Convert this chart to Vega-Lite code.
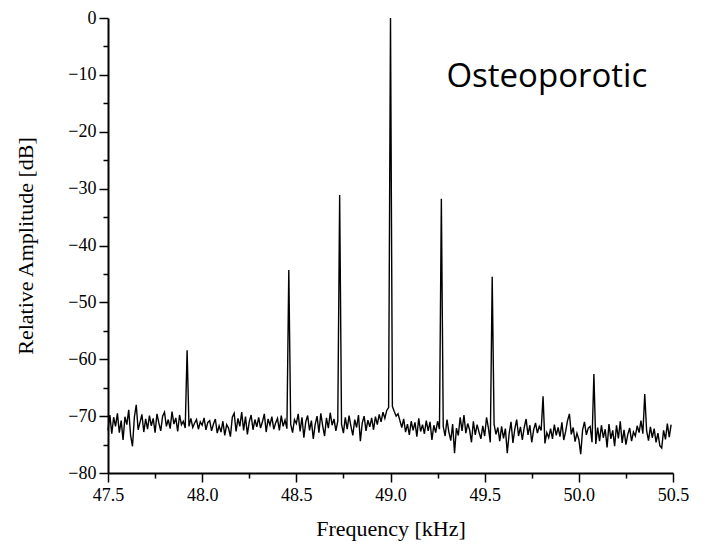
{
  "$schema": "https://vega.github.io/schema/vega-lite/v6.json",
  "autosize": "none",
  "width": 565,
  "height": 455,
  "padding": {"left": 108, "top": 18, "right": 33, "bottom": 74},
  "background": "white",
  "config": {"view": {"stroke": null}},
  "datasets": {
    "spectrum": [
      {"f": 47.50, "a": -72.5}, {"f": 47.51, "a": -69.8}, {"f": 47.52, "a": -73.1}, {"f": 47.53, "a": -70.2}, {"f": 47.54, "a": -71.8}, {"f": 47.55, "a": -69.5}, {"f": 47.56, "a": -72.9}, {"f": 47.57, "a": -70.8}, {"f": 47.58, "a": -74.2}, {"f": 47.59, "a": -70.1},
      {"f": 47.60, "a": -71.5}, {"f": 47.61, "a": -68.9}, {"f": 47.62, "a": -73.4}, {"f": 47.63, "a": -75.3}, {"f": 47.64, "a": -70.2}, {"f": 47.65, "a": -68.0}, {"f": 47.66, "a": -72.4}, {"f": 47.67, "a": -71.1}, {"f": 47.68, "a": -69.7}, {"f": 47.69, "a": -72.8},
      {"f": 47.70, "a": -70.5}, {"f": 47.71, "a": -72.3}, {"f": 47.72, "a": -69.9}, {"f": 47.73, "a": -71.7}, {"f": 47.74, "a": -70.4}, {"f": 47.75, "a": -72.9}, {"f": 47.76, "a": -69.6}, {"f": 47.77, "a": -71.2}, {"f": 47.78, "a": -72.6}, {"f": 47.79, "a": -70.0},
      {"f": 47.80, "a": -69.3}, {"f": 47.81, "a": -71.8}, {"f": 47.82, "a": -70.6}, {"f": 47.83, "a": -72.2}, {"f": 47.84, "a": -69.2}, {"f": 47.85, "a": -71.4}, {"f": 47.86, "a": -70.3}, {"f": 47.87, "a": -72.7}, {"f": 47.88, "a": -69.8}, {"f": 47.89, "a": -71.5},
      {"f": 47.90, "a": -70.9}, {"f": 47.91, "a": -72.1}, {"f": 47.92, "a": -58.4}, {"f": 47.93, "a": -71.8}, {"f": 47.94, "a": -70.4}, {"f": 47.95, "a": -72.0}, {"f": 47.96, "a": -71.2}, {"f": 47.97, "a": -70.6}, {"f": 47.98, "a": -72.3}, {"f": 47.99, "a": -71.0},
      {"f": 48.00, "a": -71.6}, {"f": 48.01, "a": -70.3}, {"f": 48.02, "a": -72.4}, {"f": 48.03, "a": -71.1}, {"f": 48.04, "a": -70.8}, {"f": 48.05, "a": -72.6}, {"f": 48.06, "a": -71.4}, {"f": 48.07, "a": -70.5}, {"f": 48.08, "a": -73.0}, {"f": 48.09, "a": -71.7},
      {"f": 48.10, "a": -72.8}, {"f": 48.11, "a": -70.9}, {"f": 48.12, "a": -73.4}, {"f": 48.13, "a": -71.5}, {"f": 48.14, "a": -72.1}, {"f": 48.15, "a": -73.6}, {"f": 48.16, "a": -70.2}, {"f": 48.17, "a": -69.5}, {"f": 48.18, "a": -72.7}, {"f": 48.19, "a": -70.4},
      {"f": 48.20, "a": -71.8}, {"f": 48.21, "a": -69.3}, {"f": 48.22, "a": -72.5}, {"f": 48.23, "a": -70.1}, {"f": 48.24, "a": -73.2}, {"f": 48.25, "a": -71.0}, {"f": 48.26, "a": -69.8}, {"f": 48.27, "a": -72.4}, {"f": 48.28, "a": -70.6}, {"f": 48.29, "a": -71.9},
      {"f": 48.30, "a": -70.2}, {"f": 48.31, "a": -72.1}, {"f": 48.32, "a": -71.0}, {"f": 48.33, "a": -69.6}, {"f": 48.34, "a": -72.8}, {"f": 48.35, "a": -70.5}, {"f": 48.36, "a": -71.6}, {"f": 48.37, "a": -70.1}, {"f": 48.38, "a": -72.3}, {"f": 48.39, "a": -71.2},
      {"f": 48.40, "a": -70.4}, {"f": 48.41, "a": -72.5}, {"f": 48.42, "a": -69.9}, {"f": 48.43, "a": -71.8}, {"f": 48.44, "a": -70.7}, {"f": 48.45, "a": -72.2}, {"f": 48.46, "a": -44.3}, {"f": 48.47, "a": -71.4}, {"f": 48.48, "a": -72.9}, {"f": 48.49, "a": -70.6},
      {"f": 48.50, "a": -71.3}, {"f": 48.51, "a": -69.6}, {"f": 48.52, "a": -72.7}, {"f": 48.53, "a": -70.2}, {"f": 48.54, "a": -73.8}, {"f": 48.55, "a": -71.0}, {"f": 48.56, "a": -69.9}, {"f": 48.57, "a": -72.5}, {"f": 48.58, "a": -70.8}, {"f": 48.59, "a": -74.0},
      {"f": 48.60, "a": -71.5}, {"f": 48.61, "a": -70.0}, {"f": 48.62, "a": -72.9}, {"f": 48.63, "a": -69.5}, {"f": 48.64, "a": -71.7}, {"f": 48.65, "a": -73.5}, {"f": 48.66, "a": -70.3}, {"f": 48.67, "a": -72.1}, {"f": 48.68, "a": -69.4}, {"f": 48.69, "a": -71.6},
      {"f": 48.70, "a": -70.5}, {"f": 48.71, "a": -72.6}, {"f": 48.72, "a": -70.9}, {"f": 48.73, "a": -31.1}, {"f": 48.74, "a": -71.4}, {"f": 48.75, "a": -73.0}, {"f": 48.76, "a": -70.2}, {"f": 48.77, "a": -72.3}, {"f": 48.78, "a": -69.9}, {"f": 48.79, "a": -71.8},
      {"f": 48.80, "a": -73.4}, {"f": 48.81, "a": -70.6}, {"f": 48.82, "a": -72.0}, {"f": 48.83, "a": -69.8}, {"f": 48.84, "a": -74.4}, {"f": 48.85, "a": -71.2}, {"f": 48.86, "a": -70.0}, {"f": 48.87, "a": -72.6}, {"f": 48.88, "a": -70.7}, {"f": 48.89, "a": -71.9},
      {"f": 48.90, "a": -70.3}, {"f": 48.91, "a": -72.4}, {"f": 48.92, "a": -70.1}, {"f": 48.93, "a": -71.5}, {"f": 48.94, "a": -69.7}, {"f": 48.95, "a": -71.0}, {"f": 48.96, "a": -69.3}, {"f": 48.97, "a": -70.4}, {"f": 48.98, "a": -69.0}, {"f": 48.99, "a": -68.5},
      {"f": 49.00, "a": 0.0}, {"f": 49.01, "a": -68.3}, {"f": 49.02, "a": -69.2}, {"f": 49.03, "a": -70.0}, {"f": 49.04, "a": -69.6}, {"f": 49.05, "a": -70.8}, {"f": 49.06, "a": -72.0}, {"f": 49.07, "a": -70.5}, {"f": 49.08, "a": -72.8}, {"f": 49.09, "a": -71.4},
      {"f": 49.10, "a": -73.3}, {"f": 49.11, "a": -70.9}, {"f": 49.12, "a": -72.5}, {"f": 49.13, "a": -71.1}, {"f": 49.14, "a": -73.6}, {"f": 49.15, "a": -70.4}, {"f": 49.16, "a": -72.7}, {"f": 49.17, "a": -71.5}, {"f": 49.18, "a": -73.1}, {"f": 49.19, "a": -70.8},
      {"f": 49.20, "a": -72.6}, {"f": 49.21, "a": -71.0}, {"f": 49.22, "a": -74.2}, {"f": 49.23, "a": -71.6}, {"f": 49.24, "a": -72.9}, {"f": 49.25, "a": -70.9}, {"f": 49.26, "a": -72.3}, {"f": 49.27, "a": -31.8}, {"f": 49.28, "a": -71.8}, {"f": 49.29, "a": -73.5},
      {"f": 49.30, "a": -70.6}, {"f": 49.31, "a": -72.8}, {"f": 49.32, "a": -74.3}, {"f": 49.33, "a": -71.4}, {"f": 49.34, "a": -76.5}, {"f": 49.35, "a": -72.1}, {"f": 49.36, "a": -73.4}, {"f": 49.37, "a": -70.2}, {"f": 49.38, "a": -72.6}, {"f": 49.39, "a": -69.8},
      {"f": 49.40, "a": -73.0}, {"f": 49.41, "a": -71.3}, {"f": 49.42, "a": -72.4}, {"f": 49.43, "a": -74.6}, {"f": 49.44, "a": -70.9}, {"f": 49.45, "a": -73.3}, {"f": 49.46, "a": -71.5}, {"f": 49.47, "a": -72.8}, {"f": 49.48, "a": -74.0}, {"f": 49.49, "a": -71.7},
      {"f": 49.50, "a": -73.5}, {"f": 49.51, "a": -70.2}, {"f": 49.52, "a": -72.1}, {"f": 49.53, "a": -74.6}, {"f": 49.54, "a": -45.5}, {"f": 49.55, "a": -71.4}, {"f": 49.56, "a": -73.2}, {"f": 49.57, "a": -72.0}, {"f": 49.58, "a": -74.4}, {"f": 49.59, "a": -71.8},
      {"f": 49.60, "a": -73.9}, {"f": 49.61, "a": -72.2}, {"f": 49.62, "a": -76.5}, {"f": 49.63, "a": -73.1}, {"f": 49.64, "a": -71.0}, {"f": 49.65, "a": -74.7}, {"f": 49.66, "a": -72.3}, {"f": 49.67, "a": -70.6}, {"f": 49.68, "a": -73.5}, {"f": 49.69, "a": -71.9},
      {"f": 49.70, "a": -74.2}, {"f": 49.71, "a": -72.0}, {"f": 49.72, "a": -70.5}, {"f": 49.73, "a": -73.3}, {"f": 49.74, "a": -71.6}, {"f": 49.75, "a": -74.6}, {"f": 49.76, "a": -72.4}, {"f": 49.77, "a": -71.2}, {"f": 49.78, "a": -73.0}, {"f": 49.79, "a": -71.8},
      {"f": 49.80, "a": -72.5}, {"f": 49.81, "a": -66.5}, {"f": 49.82, "a": -74.8}, {"f": 49.83, "a": -72.9}, {"f": 49.84, "a": -73.8}, {"f": 49.85, "a": -72.2}, {"f": 49.86, "a": -74.0}, {"f": 49.87, "a": -71.5}, {"f": 49.88, "a": -73.4}, {"f": 49.89, "a": -72.0},
      {"f": 49.90, "a": -73.6}, {"f": 49.91, "a": -71.1}, {"f": 49.92, "a": -74.2}, {"f": 49.93, "a": -72.7}, {"f": 49.94, "a": -70.8}, {"f": 49.95, "a": -69.6}, {"f": 49.96, "a": -73.2}, {"f": 49.97, "a": -72.0}, {"f": 49.98, "a": -74.5}, {"f": 49.99, "a": -73.0},
      {"f": 50.00, "a": -74.1}, {"f": 50.01, "a": -76.7}, {"f": 50.02, "a": -72.4}, {"f": 50.03, "a": -71.0}, {"f": 50.04, "a": -73.3}, {"f": 50.05, "a": -72.1}, {"f": 50.06, "a": -71.8}, {"f": 50.07, "a": -74.6}, {"f": 50.08, "a": -62.6}, {"f": 50.09, "a": -74.9},
      {"f": 50.10, "a": -72.0}, {"f": 50.11, "a": -74.4}, {"f": 50.12, "a": -71.6}, {"f": 50.13, "a": -73.8}, {"f": 50.14, "a": -72.3}, {"f": 50.15, "a": -75.5}, {"f": 50.16, "a": -71.4}, {"f": 50.17, "a": -74.0}, {"f": 50.18, "a": -72.5}, {"f": 50.19, "a": -75.3},
      {"f": 50.20, "a": -71.6}, {"f": 50.21, "a": -73.9}, {"f": 50.22, "a": -70.9}, {"f": 50.23, "a": -74.7}, {"f": 50.24, "a": -72.4}, {"f": 50.25, "a": -75.0}, {"f": 50.26, "a": -73.2}, {"f": 50.27, "a": -72.1}, {"f": 50.28, "a": -74.4}, {"f": 50.29, "a": -72.8},
      {"f": 50.30, "a": -73.5}, {"f": 50.31, "a": -71.7}, {"f": 50.32, "a": -72.9}, {"f": 50.33, "a": -70.8}, {"f": 50.34, "a": -73.1}, {"f": 50.35, "a": -66.1}, {"f": 50.36, "a": -72.6}, {"f": 50.37, "a": -74.3}, {"f": 50.38, "a": -71.9}, {"f": 50.39, "a": -73.8},
      {"f": 50.40, "a": -72.2}, {"f": 50.41, "a": -74.6}, {"f": 50.42, "a": -73.0}, {"f": 50.43, "a": -75.2}, {"f": 50.44, "a": -75.6}, {"f": 50.45, "a": -72.5}, {"f": 50.46, "a": -74.1}, {"f": 50.47, "a": -71.3}, {"f": 50.48, "a": -73.7}, {"f": 50.49, "a": -71.5}
    ],
    "label": [{"f": 49.83, "a": -12.1, "text": "Osteoporotic"}]
  },
  "resolve": {"axis": {"x": "independent", "y": "independent"}},
  "layer": [
    {
      "data": {"name": "spectrum"},
      "mark": {"type": "line", "color": "black", "strokeWidth": 1.4},
      "encoding": {
        "x": {
          "field": "f", "type": "quantitative",
          "scale": {"domain": [47.5, 50.5], "nice": false, "zero": false},
          "axis": {
            "orient": "bottom",
            "title": "Frequency [kHz]",
            "values": [47.5, 48.0, 48.5, 49.0, 49.5, 50.0, 50.5],
            "format": ".1f",
            "tickSize": 9,
            "grid": false,
            "domainColor": "black", "domainWidth": 2,
            "tickColor": "black", "tickWidth": 1.5,
            "labelFont": "Liberation Serif", "labelFontSize": 18, "labelColor": "black",
            "labelPadding": 4, "labelFlush": false,
            "titleFont": "Liberation Serif", "titleFontSize": 22, "titleFontWeight": "normal", "titleColor": "black",
            "titlePadding": 14
          }
        },
        "y": {
          "field": "a", "type": "quantitative",
          "scale": {"domain": [-80, 0], "nice": false, "zero": false},
          "axis": {
            "orient": "left",
            "title": "Relative Amplitude [dB]",
            "values": [-80, -70, -60, -50, -40, -30, -20, -10, 0],
            "format": "d",
            "tickSize": 9,
            "grid": false,
            "domainColor": "black", "domainWidth": 2,
            "tickColor": "black", "tickWidth": 1.5,
            "labelFont": "Liberation Serif", "labelFontSize": 18, "labelColor": "black",
            "labelPadding": 3,
            "titleFont": "Liberation Serif", "titleFontSize": 22, "titleFontWeight": "normal", "titleColor": "black",
            "titlePadding": 30
          }
        }
      }
    },
    {
      "data": {"name": "label"},
      "mark": {"type": "text", "font": "Open Sans", "fontSize": 33, "color": "black", "align": "center", "baseline": "alphabetic"},
      "encoding": {
        "x": {
          "field": "f", "type": "quantitative",
          "axis": {
            "orient": "bottom",
            "title": null,
            "values": [47.75, 48.25, 48.75, 49.25, 49.75, 50.25],
            "labels": false, "domain": false, "grid": false,
            "tickSize": 5, "tickColor": "black", "tickWidth": 1.5
          }
        },
        "y": {
          "field": "a", "type": "quantitative",
          "axis": {
            "orient": "left",
            "title": null,
            "values": [-75, -65, -55, -45, -35, -25, -15, -5],
            "labels": false, "domain": false, "grid": false,
            "tickSize": 5, "tickColor": "black", "tickWidth": 1.5
          }
        },
        "text": {"field": "text"}
      }
    }
  ]
}
